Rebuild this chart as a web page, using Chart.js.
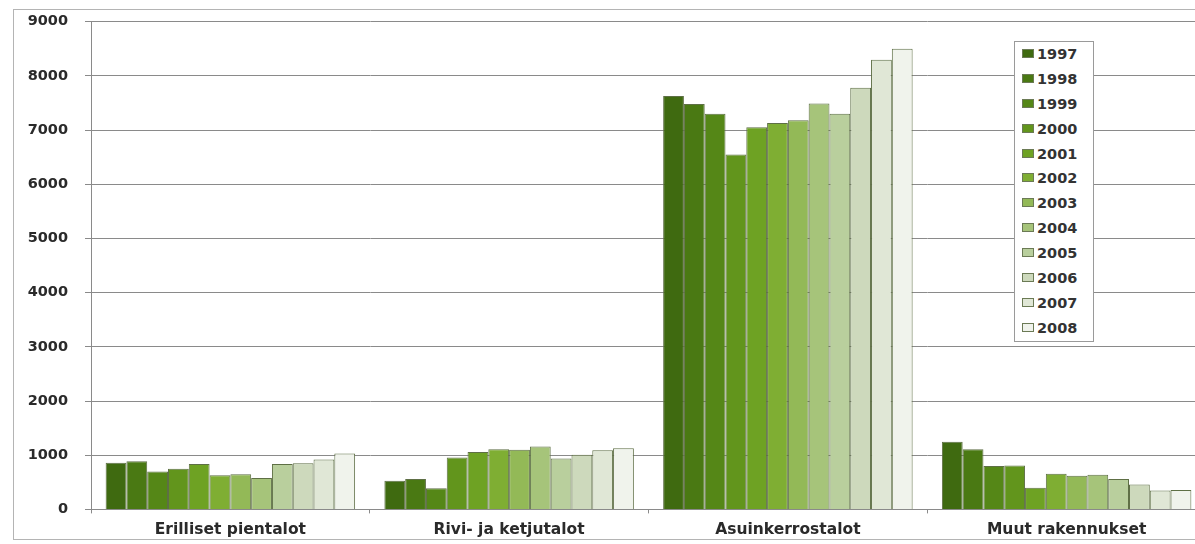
<!DOCTYPE html>
<html>
<head>
<meta charset="utf-8">
<script src="https://cdn.jsdelivr.net/npm/chart.js@4.4.1/dist/chart.umd.min.js"></script>
<style>
    html, body { margin: 0; padding: 0; background: #fff; overflow: hidden; }
    #wrap { position: relative; width: 1195px; height: 544px; overflow: hidden; }
    #chart { position: absolute; left: 0; top: -4px; }
    #frame { position: absolute; left: 13px; top: 9px; width: 1200px; height: 531px; border: 1px solid #b4b4b4; box-sizing: border-box; pointer-events: none; }
    #legend {
        position: absolute; left: 1014px; top: 41px; width: 78px;
        border: 1px solid #9a9a9a; background: #fff; padding: 0;
        font-family: "DejaVu Sans", sans-serif; font-weight: bold; font-size: 14.5px; color: #333;
    }
    #legend .item { height: 24.9px; line-height: 24.9px; padding-left: 7px; white-space: nowrap; }
    #legend .box { display: inline-block; width: 10px; height: 7px; border: 1px solid #6b7a55; margin-right: 3px; vertical-align: 1px; }
</style>
</head>
<body>
<div id="wrap">
    <canvas id="chart" width="1206" height="550"></canvas>
    <div id="frame"></div>
    <div id="legend"></div>
</div>
<script>
// kategoriat ja vuodet
const categories = ['Erilliset pientalot', 'Rivi- ja ketjutalot', 'Asuinkerrostalot', 'Muut rakennukset'];
const years = ['1997', '1998', '1999', '2000', '2001', '2002', '2003', '2004', '2005', '2006', '2007', '2008'];

// arvot vuosittain: [pientalot, rivitalot, kerrostalot, muut]
const v1997 = [860, 530, 7630, 1250];
const v1998 = [890, 560, 7480, 1110];
const v1999 = [700, 390, 7300, 800];
const v2000 = [750, 960, 6550, 810];
const v2001 = [840, 1060, 7050, 400];
const v2002 = [630, 1110, 7130, 660];
const v2003 = [650, 1100, 7180, 620];
const v2004 = [580, 1160, 7490, 640];
const v2005 = [840, 940, 7300, 560];
const v2006 = [850, 1010, 7780, 460];
const v2007 = [920, 1090, 8300, 350];
const v2008 = [1030, 1130, 8500, 360];

const yTicks = [0, 1000, 2000, 3000, 4000, 5000, 6000, 7000, 8000, 9000];

const colors = ['#3f6a10', '#4a7913', '#558717', '#62951c', '#6ea223', '#7fae33', '#93b957', '#a6c47a',
                '#b9cf9d', '#cdd9bc', '#e0e7d6', '#f0f3ec'];
const values = [v1997, v1998, v1999, v2000, v2001, v2002, v2003, v2004, v2005, v2006, v2007, v2008];

const datasets = years.map((y, i) => ({
    label: y,
    data: values[i],
    backgroundColor: colors[i],
    borderColor: '#5e6f45',
    borderWidth: 1,
    borderSkipped: 'bottom',
    categoryPercentage: 0.895,
    barPercentage: 1.0
}));

// legenda html:nä
const legend = document.getElementById('legend');
years.forEach((y, i) => {
    const row = document.createElement('div');
    row.className = 'item';
    row.innerHTML = '<span class="box" style="background:' + colors[i] + '"></span>' + y;
    legend.appendChild(row);
});

const ctx = document.getElementById('chart').getContext('2d');
new Chart(ctx, {
    type: 'bar',
    data: { labels: categories, datasets: datasets },
    options: {
        responsive: false,
        animation: false,
        layout: { padding: { left: 16, right: 0, top: 9, bottom: 0 } },
        plugins: {
            legend: { display: false },
            tooltip: { enabled: false }
        },
        scales: {
            x: {
                offset: true,
                grid: { display: true, drawOnChartArea: false, tickLength: 4, color: '#8a8a8a' },
                border: { color: '#8a8a8a', width: 1 },
                ticks: {
                    color: '#2a2a2a',
                    padding: 7,
                    font: { family: '"DejaVu Sans", sans-serif', size: 15.5, weight: 'bold' }
                }
            },
            y: {
                min: 0,
                max: 9000,
                afterBuildTicks: function (scale) {
                    scale.ticks = yTicks.map(v => ({ value: v }));
                },
                afterFit: function (scale) { scale.width = 75; },
                grid: { color: '#8a8a8a', lineWidth: 1, tickLength: 6 },
                border: { color: '#8a8a8a', width: 1 },
                ticks: {
                    color: '#2a2a2a',
                    padding: 17,
                    callback: v => String(v),
                    font: { family: '"DejaVu Sans", sans-serif', size: 14.5, weight: 'bold' }
                }
            }
        }
    }
});
</script>
</body>
</html>
